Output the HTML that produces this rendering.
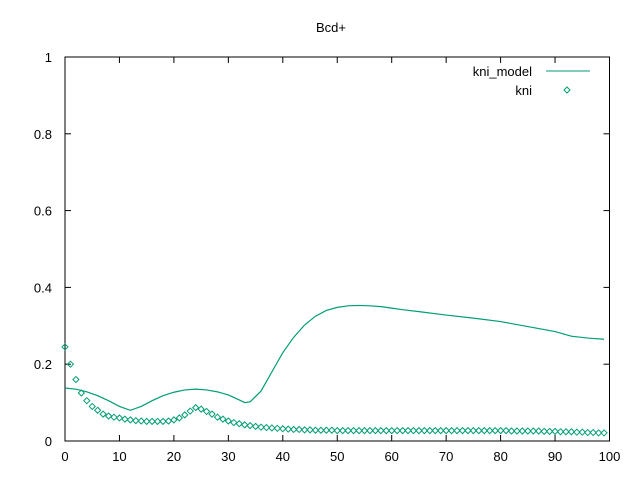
<!DOCTYPE html>
<html><head><meta charset="utf-8"><style>
body{margin:0;background:#fff}
svg{display:block;font-family:"Liberation Sans",sans-serif;font-size:13px}
</style></head><body>
<svg id="chart" width="640" height="480">
<rect width="640" height="480" fill="#fff"/>
<text x="331" y="32" text-anchor="middle">Bcd+</text>
<g id="axes"></g>
<g id="series"></g>
<g>
<text x="532" y="76" text-anchor="end">kni_model</text>
<line x1="546" y1="71" x2="590" y2="71" stroke="#009e73" stroke-width="1"/>
<text x="532" y="95" text-anchor="end">kni</text>
<path d="M567,87 l3,3 l-3,3 l-3,-3z" fill="none" stroke="#009e73"/>
</g>
</svg>
<script>
const xTicks=[0,10,20,30,40,50,60,70,80,90,100];
const yTicks=[0,0.2,0.4,0.6,0.8,1];
const yTickLabels=["0","0.2","0.4","0.6","0.8","1"];
const kniValues=[0.245,0.2,0.16,0.125,0.105,0.09,0.08,0.07,0.065,0.062,0.06,0.057,0.055,0.053,0.052,0.051,0.051,0.051,0.051,0.052,0.055,0.06,0.068,0.078,0.087,0.083,0.077,0.07,0.062,0.057,0.052,0.048,0.045,0.042,0.04,0.038,0.036,0.035,0.034,0.033,0.032,0.031,0.03,0.03,0.029,0.029,0.028,0.028,0.028,0.028,0.027,0.027,0.027,0.027,0.027,0.027,0.027,0.027,0.027,0.027,0.027,0.027,0.027,0.027,0.027,0.027,0.027,0.027,0.027,0.027,0.027,0.027,0.027,0.027,0.027,0.027,0.027,0.027,0.027,0.027,0.027,0.027,0.026,0.026,0.026,0.026,0.026,0.026,0.025,0.025,0.025,0.024,0.024,0.024,0.023,0.023,0.022,0.022,0.021,0.021];
const modelX=[0,2,4,6,8,10,12,14,16,18,20,22,24,26,28,30,32,33,34,36,38,40,42,44,46,48,50,52,54,56,58,60,62,65,70,75,80,85,90,93,96,99];
const modelY=[0.138,0.135,0.128,0.118,0.105,0.09,0.08,0.09,0.105,0.118,0.127,0.133,0.135,0.133,0.128,0.12,0.107,0.1,0.102,0.13,0.18,0.23,0.27,0.302,0.325,0.34,0.348,0.352,0.353,0.352,0.35,0.346,0.342,0.337,0.328,0.32,0.311,0.298,0.285,0.273,0.268,0.265];
const X0=65,X1=609.5,Y0=441,Y1=57;
const sx=v=>X0+(X1-X0)*v/100, sy=v=>Y0-(Y0-Y1)*v;
const NS="http://www.w3.org/2000/svg";
const axes=document.getElementById('axes'),series=document.getElementById('series');
function mk(tag,attrs,parent){const e=document.createElementNS(NS,tag);for(const k in attrs)e.setAttribute(k,attrs[k]);parent.appendChild(e);return e;}
const frame=mk('rect',{x:X0,y:Y1,width:X1-X0,height:Y0-Y1,fill:'none',stroke:'#000'},axes);


xTicks.forEach(t=>{const x=sx(t);
const a=mk('line',{x1:x,y1:Y0,x2:x,y2:Y0-6,stroke:'#000'},axes);


const b=mk('line',{x1:x,y1:Y1,x2:x,y2:Y1+6,stroke:'#000'},axes);


const l=mk('text',{x:x,y:Y0+20,'text-anchor':'middle'},axes);l.textContent=t;

});
yTicks.forEach((t,i)=>{const y=sy(t);
const a=mk('line',{x1:X0,y1:y,x2:X0+6,y2:y,stroke:'#000'},axes);


const b=mk('line',{x1:X1,y1:y,x2:X1-6,y2:y,stroke:'#000'},axes);


const l=mk('text',{x:52,y:y+5,'text-anchor':'end'},axes);l.textContent=yTickLabels[i];

});
const line=mk('polyline',{points:modelX.map((x,i)=>sx(x)+','+sy(modelY[i])).join(' '),fill:'none',stroke:'#009e73','stroke-width':1.2},series);


kniValues.forEach((v,i)=>{const x=sx(i),y=sy(v);
const p=mk('path',{d:`M${x},${y-3} l3,3 l-3,3 l-3,-3z`,fill:'none',stroke:'#009e73'},series);

});
</script>
</body></html>
